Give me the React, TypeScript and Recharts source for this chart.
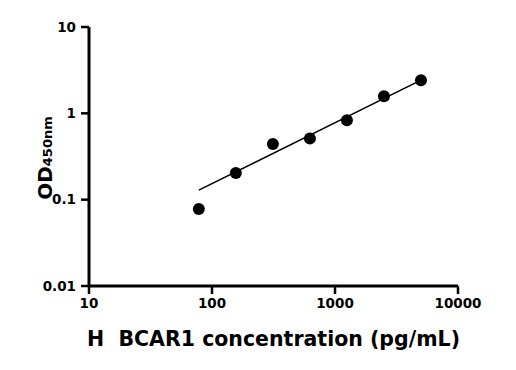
import React from 'react';
import { ScatterChart, Scatter, XAxis, YAxis, Label } from 'recharts';

// concentration (pg/mL) and OD450 readings
const concentrations = [78.125, 156.25, 312.5, 625, 1250, 2500, 5000];
const odValues = [0.078, 0.204, 0.44, 0.51, 0.83, 1.58, 2.42];

// fitted line end points
const fitX = [78.125, 5000];
const fitY = [0.129, 2.42];

const xTicks = [10, 100, 1000, 10000];
const yTicks = [0.01, 0.1, 1, 10];

const points = concentrations.map((x, i) => ({ x, y: odValues[i] }));
const fitLine = fitX.map((x, i) => ({ x, y: fitY[i] }));

const font = '"DejaVu Sans", sans-serif';

const XTitle = (props: any) => {
  const { viewBox } = props;
  return (
    <text
      x={viewBox.x + viewBox.width / 2}
      y={viewBox.y + 60}
      textAnchor="middle"
      fontFamily={font}
      fontWeight="bold"
      fontSize={20.5}
      fill="#000"
      style={{ whiteSpace: 'pre' }}
    >
      {'H  BCAR1 concentration (pg/mL)'}
    </text>
  );
};

const YTitle = (props: any) => {
  const { viewBox } = props;
  const cx = viewBox.x + 51.5;
  const cy = viewBox.y + viewBox.height / 2 + 1.5;
  return (
    <text
      x={cx}
      y={cy}
      transform={`rotate(-90, ${cx}, ${cy})`}
      textAnchor="middle"
      fontFamily={font}
      fontWeight="bold"
      fill="#000"
    >
      <tspan fontSize={20}>OD</tspan>
      <tspan fontSize={13}>450nm</tspan>
    </text>
  );
};

const Dot = (props: any) => <circle cx={props.cx} cy={props.cy} r={6} fill="#000" />;

export default function App() {
  const tickStyle = { fontFamily: font, fontWeight: 'bold', fontSize: 13.5, fill: '#000' };
  const axisStyle = { stroke: '#000', strokeWidth: 3 };
  return (
    <div style={{ position: 'absolute', left: 0, top: 0, background: '#fff' }}>
      <ScatterChart width={516} height={370} margin={{ top: 27, right: 58, bottom: 0, left: 0 }}>
        <XAxis
          type="number"
          dataKey="x"
          scale="log"
          domain={[10, 10000]}
          ticks={xTicks}
          allowDataOverflow
          height={84}
          tick={tickStyle}
          tickSize={8}
          tickMargin={4}
          axisLine={axisStyle}
          tickLine={{ stroke: '#000', strokeWidth: 2.5 }}
          tickFormatter={(v: number) => String(v)}
        >
          <Label content={<XTitle />} />
        </XAxis>
        <YAxis
          type="number"
          dataKey="y"
          scale="log"
          domain={[0.01, 10]}
          ticks={yTicks}
          allowDataOverflow
          width={89}
          tick={tickStyle}
          tickSize={8}
          tickMargin={5}
          axisLine={axisStyle}
          tickLine={{ stroke: '#000', strokeWidth: 2.5 }}
          tickFormatter={(v: number) => String(v)}
        >
          <Label content={<YTitle />} />
        </YAxis>
        <Scatter
          data={fitLine}
          line={{ stroke: '#000', strokeWidth: 1.5 }}
          shape={() => null}
          isAnimationActive={false}
        />
        <Scatter data={points} shape={<Dot />} isAnimationActive={false} />
      </ScatterChart>
    </div>
  );
}
